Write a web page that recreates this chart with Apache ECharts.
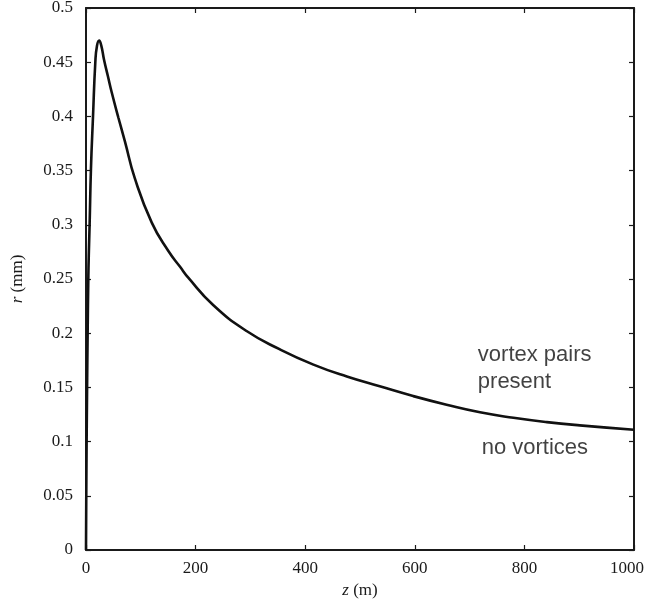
<!DOCTYPE html>
<html>
<head>
<meta charset="utf-8">
<script src="https://cdn.jsdelivr.net/npm/echarts@6/dist/echarts.min.js"></script>
<style>
  html, body { margin: 0; padding: 0; background: #fff; }
  #chart { width: 648px; height: 602px; }
</style>
</head>
<body>
<div id="chart"></div>
<script>
// distance along fibre z (m) and radius r (mm)
const zVals = [0, 0.5, 1, 2, 3, 4.3, 5.5, 6.7, 9, 12.8, 17, 20, 24, 28, 33, 40,
  47, 59, 71, 89, 120, 150, 172, 187, 232, 293, 354, 415, 476, 536, 597, 658,
  719, 780, 841, 901, 1000];
const rVals = [0, 0.05, 0.09, 0.15, 0.2, 0.253, 0.28, 0.302, 0.351, 0.4, 0.45,
  0.465, 0.470, 0.465, 0.452, 0.437, 0.422, 0.399, 0.377, 0.343, 0.302, 0.276,
  0.261, 0.251, 0.226, 0.202, 0.185, 0.171, 0.160, 0.151, 0.142, 0.134, 0.127,
  0.122, 0.118, 0.115, 0.111];

// text notes placed in data coordinates
const noteText = ['vortex pairs', 'present', 'no vortices'];
const noteZ = [715, 715, 722];
const noteR = [0.180, 0.155, 0.094];

const chart = echarts.init(document.getElementById('chart'));

const axisLine = { show: true, onZero: false, lineStyle: { color: '#1a1a1a', width: 2 } };
const tickIn = { show: true, inside: true, length: 5, lineStyle: { color: '#1a1a1a', width: 1.2 } };
const serif = '"Liberation Serif", "DejaVu Serif", serif';

const option = {
  animation: false,
  backgroundColor: '#fff',
  grid: { left: 86, right: 14, top: 8, bottom: 52, outerBoundsMode: 'none' },
  xAxis: [
    {
      type: 'value',
      min: 0, max: 1000, interval: 200,
      position: 'bottom',
      axisLine: axisLine,
      axisTick: tickIn,
      splitLine: { show: false },
      axisLabel: {
        color: '#1a1a1a', fontFamily: serif, fontSize: 17, margin: 10,
        // last label sits a little left so it stays inside the page
        formatter: v => (v === 1000 ? '{last|' + v + '}' : String(v)),
        rich: { last: { fontFamily: serif, fontSize: 17, color: '#1a1a1a', padding: [0, 14, 0, 0] } }
      },
      name: '{i|z} (m)',
      nameLocation: 'middle',
      nameGap: 30,
      nameTextStyle: {
        color: '#1a1a1a', fontFamily: serif, fontSize: 17,
        rich: { i: { fontStyle: 'italic', fontFamily: serif, fontSize: 17, color: '#1a1a1a' } }
      }
    },
    {
      type: 'value',
      min: 0, max: 1000, interval: 200,
      position: 'top',
      axisLine: axisLine,
      axisTick: tickIn,
      axisLabel: { show: false },
      splitLine: { show: false }
    }
  ],
  yAxis: [
    {
      type: 'value',
      min: 0, max: 0.5, interval: 0.05,
      position: 'left',
      axisLine: axisLine,
      axisTick: tickIn,
      splitLine: { show: false },
      axisLabel: { color: '#1a1a1a', fontFamily: serif, fontSize: 17, margin: 13 },
      name: '{i|r} (mm)',
      nameLocation: 'middle',
      nameGap: 60,
      nameTextStyle: {
        color: '#1a1a1a', fontFamily: serif, fontSize: 17,
        rich: { i: { fontStyle: 'italic', fontFamily: serif, fontSize: 17, color: '#1a1a1a' } }
      }
    },
    {
      type: 'value',
      min: 0, max: 0.5, interval: 0.05,
      position: 'right',
      axisLine: axisLine,
      axisTick: tickIn,
      axisLabel: { show: false },
      splitLine: { show: false }
    }
  ],
  series: [
    {
      type: 'line',
      data: zVals.map((z, i) => [z, rVals[i]]),
      smooth: 0.5,
      symbol: 'none',
      lineStyle: { color: '#111', width: 2.6 }
    },
    {
      type: 'scatter',
      symbolSize: 0,
      silent: true,
      data: noteText.map((t, i) => ({ value: [noteZ[i], noteR[i]], name: t })),
      label: {
        show: true,
        position: 'right',
        distance: 0,
        formatter: p => p.name,
        color: '#111',
        fontFamily: '"Liberation Sans", Arial, sans-serif',
        fontSize: 22
      }
    }
  ]
};

chart.setOption(option);
</script>
</body>
</html>
